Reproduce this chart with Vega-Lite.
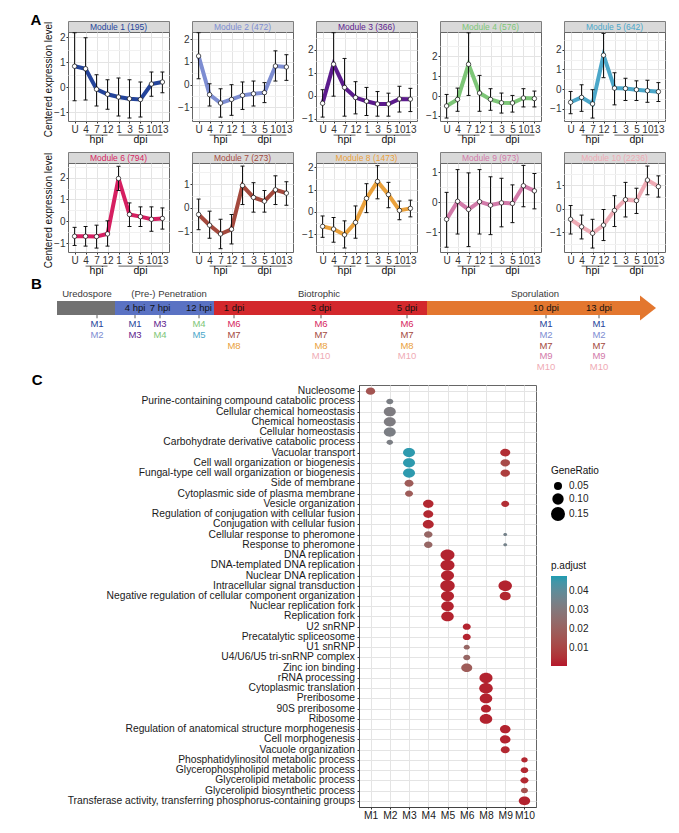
{
"$schema": "https://vega.github.io/schema/vega-lite/v6.json",
"padding": {"left": 30, "top": 12, "right": 5, "bottom": 5},
"background": "white",
"config": {
  "font": "Liberation Sans",
  "view": {"stroke": "#666", "strokeWidth": 1},
  "axis": {"labelFontSize": 10, "labelColor": "#333", "tickColor": "#333", "tickSize": 2, "labelPadding": 1, "gridColor": "#e4e4e4", "domain": false, "titleFontWeight": "normal", "titleFontSize": 10, "titleColor": "#111", "labelOverlap": false},
  "legend": {"titleFontWeight": "normal", "titleFontSize": 10, "labelFontSize": 10, "titleColor": "#111", "labelColor": "#222"},
  "title": {"fontSize": 15, "fontWeight": "bold", "anchor": "start", "offset": 0, "color": "#000"},
  "range": {"category": ["#24449b", "#7d8dd2", "#5c1b8d", "#7dc677", "#4ba7c9", "#d61f61", "#a4493d", "#eaa13b", "#d27aa9", "#efabb5"]}
},
"datasets": {
  "mods": [
    {"module": "M1", "label": "Module 1 (195)"}, {"module": "M2", "label": "Module 2 (472)"}, {"module": "M3", "label": "Module 3 (366)"}, {"module": "M4", "label": "Module 4 (576)"}, {"module": "M5", "label": "Module 5 (642)"},
    {"module": "M6", "label": "Module 6 (794)"}, {"module": "M7", "label": "Module 7 (273)"}, {"module": "M8", "label": "Module 8 (1473)"}, {"module": "M9", "label": "Module 9 (973)"}, {"module": "M10", "label": "Module 10 (2236)"}
  ],
  "tgroups": [{"group": "hpi", "from": "4", "to": "12", "mid": "7"}, {"group": "dpi", "from": "1", "to": "13", "mid": "5"}],
  "expr": [
    {"module":"M1","time":"U","mean":0.83,"lo":-0.55,"hi":2.17},{"module":"M1","time":"4","mean":0.73,"lo":-0.52,"hi":1.97},{"module":"M1","time":"7","mean":-0.09,"lo":-0.76,"hi":0.49},{"module":"M1","time":"12","mean":-0.29,"lo":-0.89,"hi":0.29},{"module":"M1","time":"1","mean":-0.40,"lo":-1.16,"hi":0.36},{"module":"M1","time":"3","mean":-0.47,"lo":-1.24,"hi":0.29},{"module":"M1","time":"5","mean":-0.50,"lo":-1.20,"hi":0.20},{"module":"M1","time":"10","mean":0.12,"lo":-0.37,"hi":0.60},{"module":"M1","time":"13","mean":0.20,"lo":-0.23,"hi":0.60},
    {"module":"M2","time":"U","mean":1.26,"lo":0.26,"hi":2.29},{"module":"M2","time":"4","mean":-0.44,"lo":-0.94,"hi":0.04},{"module":"M2","time":"7","mean":-0.81,"lo":-1.43,"hi":-0.18},{"module":"M2","time":"12","mean":-0.65,"lo":-1.35,"hi":0.00},{"module":"M2","time":"1","mean":-0.47,"lo":-1.09,"hi":0.12},{"module":"M2","time":"3","mean":-0.40,"lo":-0.94,"hi":0.16},{"module":"M2","time":"5","mean":-0.35,"lo":-0.79,"hi":0.09},{"module":"M2","time":"10","mean":0.82,"lo":0.16,"hi":1.49},{"module":"M2","time":"13","mean":0.78,"lo":0.19,"hi":1.32},
    {"module":"M3","time":"U","mean":-0.32,"lo":-0.92,"hi":0.27},{"module":"M3","time":"4","mean":1.38,"lo":-0.01,"hi":2.75},{"module":"M3","time":"7","mean":0.37,"lo":-0.88,"hi":1.63},{"module":"M3","time":"12","mean":-0.07,"lo":-0.78,"hi":0.62},{"module":"M3","time":"1","mean":-0.23,"lo":-0.85,"hi":0.37},{"module":"M3","time":"3","mean":-0.35,"lo":-0.88,"hi":0.19},{"module":"M3","time":"5","mean":-0.35,"lo":-0.88,"hi":0.12},{"module":"M3","time":"10","mean":-0.13,"lo":-0.70,"hi":0.42},{"module":"M3","time":"13","mean":-0.14,"lo":-0.68,"hi":0.33},
    {"module":"M4","time":"U","mean":-0.50,"lo":-1.11,"hi":0.08},{"module":"M4","time":"4","mean":-0.17,"lo":-0.77,"hi":0.40},{"module":"M4","time":"7","mean":1.60,"lo":0.03,"hi":3.19},{"module":"M4","time":"12","mean":0.15,"lo":-0.77,"hi":1.04},{"module":"M4","time":"1","mean":-0.17,"lo":-0.72,"hi":0.37},{"module":"M4","time":"3","mean":-0.34,"lo":-0.86,"hi":0.15},{"module":"M4","time":"5","mean":-0.35,"lo":-0.81,"hi":0.03},{"module":"M4","time":"10","mean":-0.10,"lo":-0.55,"hi":0.37},{"module":"M4","time":"13","mean":-0.13,"lo":-0.55,"hi":0.25},
    {"module":"M5","time":"U","mean":-0.67,"lo":-1.25,"hi":-0.12},{"module":"M5","time":"4","mean":-0.42,"lo":-1.13,"hi":0.22},{"module":"M5","time":"7","mean":-0.75,"lo":-1.47,"hi":-0.03},{"module":"M5","time":"12","mean":1.72,"lo":0.58,"hi":2.83},{"module":"M5","time":"1","mean":0.05,"lo":-0.80,"hi":0.83},{"module":"M5","time":"3","mean":0.03,"lo":-0.58,"hi":0.55},{"module":"M5","time":"5","mean":-0.03,"lo":-0.58,"hi":0.42},{"module":"M5","time":"10","mean":-0.08,"lo":-0.67,"hi":0.45},{"module":"M5","time":"13","mean":-0.13,"lo":-0.63,"hi":0.33},
    {"module":"M6","time":"U","mean":-0.69,"lo":-1.11,"hi":-0.28},{"module":"M6","time":"4","mean":-0.69,"lo":-1.14,"hi":-0.24},{"module":"M6","time":"7","mean":-0.70,"lo":-1.23,"hi":-0.18},{"module":"M6","time":"12","mean":-0.58,"lo":-1.14,"hi":0.02},{"module":"M6","time":"1","mean":1.96,"lo":1.41,"hi":2.52},{"module":"M6","time":"3","mean":0.31,"lo":-0.24,"hi":0.84},{"module":"M6","time":"5","mean":0.21,"lo":-0.24,"hi":0.66},{"module":"M6","time":"10","mean":0.09,"lo":-0.46,"hi":0.66},{"module":"M6","time":"13","mean":0.13,"lo":-0.36,"hi":0.61},
    {"module":"M7","time":"U","mean":-0.28,"lo":-0.92,"hi":0.37},{"module":"M7","time":"4","mean":-0.73,"lo":-1.28,"hi":-0.14},{"module":"M7","time":"7","mean":-1.10,"lo":-1.72,"hi":-0.48},{"module":"M7","time":"12","mean":-0.90,"lo":-1.52,"hi":-0.28},{"module":"M7","time":"1","mean":0.94,"lo":0.14,"hi":1.76},{"module":"M7","time":"3","mean":0.44,"lo":-0.18,"hi":1.06},{"module":"M7","time":"5","mean":0.28,"lo":-0.18,"hi":0.73},{"module":"M7","time":"10","mean":0.76,"lo":0.14,"hi":1.35},{"module":"M7","time":"13","mean":0.62,"lo":0.11,"hi":1.10},
    {"module":"M8","time":"U","mean":-0.65,"lo":-1.14,"hi":-0.18},{"module":"M8","time":"4","mean":-0.77,"lo":-1.36,"hi":-0.25},{"module":"M8","time":"7","mean":-1.03,"lo":-1.62,"hi":-0.40},{"module":"M8","time":"12","mean":-0.47,"lo":-1.18,"hi":0.27},{"module":"M8","time":"1","mean":0.61,"lo":-0.03,"hi":1.27},{"module":"M8","time":"3","mean":1.37,"lo":0.59,"hi":2.08},{"module":"M8","time":"5","mean":0.78,"lo":0.19,"hi":1.33},{"module":"M8","time":"10","mean":0.07,"lo":-0.35,"hi":0.49},{"module":"M8","time":"13","mean":0.16,"lo":-0.22,"hi":0.53},
    {"module":"M9","time":"U","mean":-0.57,"lo":-1.50,"hi":0.33},{"module":"M9","time":"4","mean":0.03,"lo":-1.06,"hi":1.09},{"module":"M9","time":"7","mean":-0.24,"lo":-1.48,"hi":0.98},{"module":"M9","time":"12","mean":0.02,"lo":-1.06,"hi":1.09},{"module":"M9","time":"1","mean":-0.10,"lo":-1.08,"hi":0.85},{"module":"M9","time":"3","mean":-0.02,"lo":-0.82,"hi":0.80},{"module":"M9","time":"5","mean":-0.04,"lo":-0.68,"hi":0.58},{"module":"M9","time":"10","mean":0.55,"lo":-0.15,"hi":1.23},{"module":"M9","time":"13","mean":0.38,"lo":-0.22,"hi":0.96},
    {"module":"M10","time":"U","mean":-0.45,"lo":-1.08,"hi":0.14},{"module":"M10","time":"4","mean":-0.77,"lo":-1.29,"hi":-0.27},{"module":"M10","time":"7","mean":-1.05,"lo":-1.68,"hi":-0.45},{"module":"M10","time":"12","mean":-0.70,"lo":-1.36,"hi":-0.03},{"module":"M10","time":"1","mean":-0.07,"lo":-0.76,"hi":0.56},{"module":"M10","time":"3","mean":0.39,"lo":-0.35,"hi":1.13},{"module":"M10","time":"5","mean":0.35,"lo":-0.20,"hi":0.88},{"module":"M10","time":"10","mean":1.23,"lo":0.60,"hi":1.83},{"module":"M10","time":"13","mean":0.95,"lo":0.50,"hi":1.41}
  ],
  "stages": [
    {"stage": "Uredospore", "start": 0, "end": 58, "mid": 30},
    {"stage": "(Pre-) Penetration", "start": 58, "end": 157, "mid": 112},
    {"stage": "Biotrophic", "start": 157, "end": 370, "mid": 262},
    {"stage": "Sporulation", "start": 370, "end": 583, "mid": 478}
  ],
  "cols": [
    {"pos": 40, "time": null}, {"pos": 78, "time": "4 hpi"}, {"pos": 103, "time": "7 hpi"}, {"pos": 142, "time": "12 hpi"}, {"pos": 177, "time": "1 dpi"},
    {"pos": 264, "time": "3 dpi"}, {"pos": 350, "time": "5 dpi"}, {"pos": 489, "time": "10 dpi"}, {"pos": 542, "time": "13 dpi"}
  ],
  "bmods": [
    {"pos": 40, "rank": 1, "module": "M1"}, {"pos": 40, "rank": 2, "module": "M2"},
    {"pos": 78, "rank": 1, "module": "M1"}, {"pos": 78, "rank": 2, "module": "M3"},
    {"pos": 103, "rank": 1, "module": "M3"}, {"pos": 103, "rank": 2, "module": "M4"},
    {"pos": 142, "rank": 1, "module": "M4"}, {"pos": 142, "rank": 2, "module": "M5"},
    {"pos": 177, "rank": 1, "module": "M6"}, {"pos": 177, "rank": 2, "module": "M7"}, {"pos": 177, "rank": 3, "module": "M8"},
    {"pos": 264, "rank": 1, "module": "M6"}, {"pos": 264, "rank": 2, "module": "M7"}, {"pos": 264, "rank": 3, "module": "M8"}, {"pos": 264, "rank": 4, "module": "M10"},
    {"pos": 350, "rank": 1, "module": "M6"}, {"pos": 350, "rank": 2, "module": "M7"}, {"pos": 350, "rank": 3, "module": "M8"}, {"pos": 350, "rank": 4, "module": "M10"},
    {"pos": 489, "rank": 1, "module": "M1"}, {"pos": 489, "rank": 2, "module": "M2"}, {"pos": 489, "rank": 3, "module": "M7"}, {"pos": 489, "rank": 4, "module": "M9"}, {"pos": 489, "rank": 5, "module": "M10"},
    {"pos": 542, "rank": 1, "module": "M1"}, {"pos": 542, "rank": 2, "module": "M2"}, {"pos": 542, "rank": 3, "module": "M7"}, {"pos": 542, "rank": 4, "module": "M9"}, {"pos": 542, "rank": 5, "module": "M10"}
  ],
  "go": [
    {"term": "Nucleosome", "module": "M1", "GeneRatio": 0.066, "padj": 0.015},
    {"term": "Purine-containing compound catabolic process", "module": "M2", "GeneRatio": 0.038, "padj": 0.033},
    {"term": "Cellular chemical homeostasis", "module": "M2", "GeneRatio": 0.11, "padj": 0.032},
    {"term": "Chemical homeostasis", "module": "M2", "GeneRatio": 0.11, "padj": 0.032},
    {"term": "Cellular homeostasis", "module": "M2", "GeneRatio": 0.11, "padj": 0.033},
    {"term": "Carbohydrate derivative catabolic process", "module": "M2", "GeneRatio": 0.032, "padj": 0.033},
    {"term": "Vacuolar transport", "module": "M3", "GeneRatio": 0.11, "padj": 0.047},
    {"term": "Vacuolar transport", "module": "M9", "GeneRatio": 0.077, "padj": 0.004},
    {"term": "Cell wall organization or biogenesis", "module": "M3", "GeneRatio": 0.11, "padj": 0.047},
    {"term": "Cell wall organization or biogenesis", "module": "M9", "GeneRatio": 0.069, "padj": 0.012},
    {"term": "Fungal-type cell wall organization or biogenesis", "module": "M3", "GeneRatio": 0.11, "padj": 0.047},
    {"term": "Fungal-type cell wall organization or biogenesis", "module": "M9", "GeneRatio": 0.069, "padj": 0.008},
    {"term": "Side of membrane", "module": "M3", "GeneRatio": 0.062, "padj": 0.018},
    {"term": "Cytoplasmic side of plasma membrane", "module": "M3", "GeneRatio": 0.049, "padj": 0.018},
    {"term": "Vesicle organization", "module": "M4", "GeneRatio": 0.085, "padj": 0.003},
    {"term": "Vesicle organization", "module": "M9", "GeneRatio": 0.049, "padj": 0.004},
    {"term": "Regulation of conjugation with cellular fusion", "module": "M4", "GeneRatio": 0.077, "padj": 0.003},
    {"term": "Conjugation with cellular fusion", "module": "M4", "GeneRatio": 0.093, "padj": 0.003},
    {"term": "Cellular response to pheromone", "module": "M4", "GeneRatio": 0.055, "padj": 0.022},
    {"term": "Cellular response to pheromone", "module": "M9", "GeneRatio": 0.012, "padj": 0.035},
    {"term": "Response to pheromone", "module": "M4", "GeneRatio": 0.055, "padj": 0.022},
    {"term": "Response to pheromone", "module": "M9", "GeneRatio": 0.012, "padj": 0.035},
    {"term": "DNA replication", "module": "M5", "GeneRatio": 0.15, "padj": 0.002},
    {"term": "DNA-templated DNA replication", "module": "M5", "GeneRatio": 0.15, "padj": 0.002},
    {"term": "Nuclear DNA replication", "module": "M5", "GeneRatio": 0.13, "padj": 0.002},
    {"term": "Intracellular signal transduction", "module": "M5", "GeneRatio": 0.16, "padj": 0.002},
    {"term": "Intracellular signal transduction", "module": "M9", "GeneRatio": 0.14, "padj": 0.002},
    {"term": "Negative regulation of cellular component organization", "module": "M5", "GeneRatio": 0.13, "padj": 0.002},
    {"term": "Negative regulation of cellular component organization", "module": "M9", "GeneRatio": 0.093, "padj": 0.003},
    {"term": "Nuclear replication fork", "module": "M5", "GeneRatio": 0.12, "padj": 0.002},
    {"term": "Replication fork", "module": "M5", "GeneRatio": 0.12, "padj": 0.002},
    {"term": "U2 snRNP", "module": "M6", "GeneRatio": 0.049, "padj": 0.002},
    {"term": "Precatalytic spliceosome", "module": "M6", "GeneRatio": 0.049, "padj": 0.002},
    {"term": "U1 snRNP", "module": "M6", "GeneRatio": 0.028, "padj": 0.022},
    {"term": "U4/U6/U5 tri-snRNP complex", "module": "M6", "GeneRatio": 0.038, "padj": 0.022},
    {"term": "Zinc ion binding", "module": "M6", "GeneRatio": 0.093, "padj": 0.018},
    {"term": "rRNA processing", "module": "M8", "GeneRatio": 0.13, "padj": 0.002},
    {"term": "Cytoplasmic translation", "module": "M8", "GeneRatio": 0.14, "padj": 0.002},
    {"term": "Preribosome", "module": "M8", "GeneRatio": 0.12, "padj": 0.002},
    {"term": "90S preribosome", "module": "M8", "GeneRatio": 0.077, "padj": 0.002},
    {"term": "Ribosome", "module": "M8", "GeneRatio": 0.12, "padj": 0.002},
    {"term": "Regulation of anatomical structure morphogenesis", "module": "M9", "GeneRatio": 0.085, "padj": 0.002},
    {"term": "Cell morphogenesis", "module": "M9", "GeneRatio": 0.085, "padj": 0.002},
    {"term": "Vacuole organization", "module": "M9", "GeneRatio": 0.062, "padj": 0.003},
    {"term": "Phosphatidylinositol metabolic process", "module": "M10", "GeneRatio": 0.032, "padj": 0.003},
    {"term": "Glycerophospholipid metabolic process", "module": "M10", "GeneRatio": 0.043, "padj": 0.003},
    {"term": "Glycerolipid metabolic process", "module": "M10", "GeneRatio": 0.049, "padj": 0.003},
    {"term": "Glycerolipid biosynthetic process", "module": "M10", "GeneRatio": 0.038, "padj": 0.014},
    {"term": "Transferase activity, transferring phosphorus-containing groups", "module": "M10", "GeneRatio": 0.10, "padj": 0.002}
  ]
},
"resolve": {"scale": {"color": "independent", "size": "independent", "fill": "independent"}, "legend": {"color": "independent", "size": "independent"}},
"spacing": 0,
"vconcat": [
{
  "title": {"text": "A", "dx": -12, "dy": 11},
  "spacing": 5,
  "vconcat": [
  {"spacing": 6, "hconcat": [
   {"bounds": "flush", "spacing": 0, "vconcat": [
    {"width": 101, "height": 11, "view": {"fill": "#d9d9d9", "stroke": "#7f7f7f"}, "data": {"name": "mods"}, "transform": [{"filter": "datum.module == 'M1'"}], "mark": {"type": "text", "fontSize": 8.5, "baseline": "middle"}, "encoding": {"text": {"field": "label"}, "color": {"field": "module", "type": "nominal", "scale": {"domain": ["M1","M2","M3","M4","M5","M6","M7","M8","M9","M10"]}, "legend": null}}},
    {"width": 101, "height": 89, "data": {"name": "expr"}, "transform": [{"filter": "datum.module == 'M1'"}], "resolve": {"axis": {"y": "independent"}},
     "encoding": {"x": {"field": "time", "type": "ordinal", "scale": {"type": "point", "domain": ["U","4","7","12","1","3","5","10","13"], "padding": 0.6}, "axis": {"title": null, "labelAngle": 0, "grid": true}}},
     "layer": [
      {"mark": {"type": "line", "strokeWidth": 4}, "encoding": {"y": {"field": "mean", "type": "quantitative", "scale": {"domain": [-1.36, 2.2], "nice": false, "zero": false}, "axis": {"title": "Centered expression level", "titleX": -15, "titleY": 47, "titleBaseline": "bottom", "titleAngle": 270, "titleAlign": "center", "grid": true, "values": [-1,0,1,2]}}, "color": {"field": "module", "type": "nominal", "scale": {"domain": ["M1","M2","M3","M4","M5","M6","M7","M8","M9","M10"]}, "legend": null}, "order": {"value": null}}},
      {"mark": {"type": "rule", "color": "#111", "strokeWidth": 1}, "encoding": {"y": {"field": "lo", "type": "quantitative", "axis": {"orient": "right", "values": [-0.5,0.5,1.5], "grid": true, "gridColor": "#f1f1f1", "labels": false, "ticks": false, "domain": false, "title": null}}, "y2": {"field": "hi"}}},
      {"mark": {"type": "tick", "color": "#111", "thickness": 1, "size": 4, "opacity": 1}, "encoding": {"y": {"field": "lo", "type": "quantitative", "axis": null}}},
      {"mark": {"type": "tick", "color": "#111", "thickness": 1, "size": 4, "opacity": 1}, "encoding": {"y": {"field": "hi", "type": "quantitative", "axis": null}}},
      {"mark": {"type": "point", "filled": true, "fill": "white", "stroke": "#111", "strokeWidth": 0.7, "size": 20, "opacity": 1}, "encoding": {"y": {"field": "mean", "type": "quantitative", "axis": null}}}
     ]},
    {"width": 101, "height": 24, "view": {"stroke": null}, "data": {"name": "tgroups"}, "layer": [
      {"mark": {"type": "rule", "color": "#333", "strokeWidth": 0.8}, "encoding": {"x": {"field": "from", "type": "ordinal", "scale": {"type": "point", "domain": ["U","4","7","12","1","3","5","10","13"], "padding": 0.6}, "axis": null}, "x2": {"field": "to"}, "y": {"datum": 2.35, "type": "quantitative", "scale": {"domain": [0, 4], "reverse": true}, "axis": null}}},
      {"mark": {"type": "text", "fontSize": 10.5, "color": "#111", "baseline": "middle"}, "encoding": {"x": {"field": "mid", "type": "ordinal"}, "y": {"datum": 3.2, "type": "quantitative"}, "text": {"field": "group"}}}
    ]}
   ]},
   {"bounds": "flush", "spacing": 0, "vconcat": [
    {"width": 101, "height": 11, "view": {"fill": "#d9d9d9", "stroke": "#7f7f7f"}, "data": {"name": "mods"}, "transform": [{"filter": "datum.module == 'M2'"}], "mark": {"type": "text", "fontSize": 8.5, "baseline": "middle"}, "encoding": {"text": {"field": "label"}, "color": {"field": "module", "type": "nominal", "scale": {"domain": ["M1","M2","M3","M4","M5","M6","M7","M8","M9","M10"]}, "legend": null}}},
    {"width": 101, "height": 89, "data": {"name": "expr"}, "transform": [{"filter": "datum.module == 'M2'"}], "resolve": {"axis": {"y": "independent"}},
     "encoding": {"x": {"field": "time", "type": "ordinal", "scale": {"type": "point", "domain": ["U","4","7","12","1","3","5","10","13"], "padding": 0.6}, "axis": {"title": null, "labelAngle": 0, "grid": true}}},
     "layer": [
      {"mark": {"type": "line", "strokeWidth": 4}, "encoding": {"y": {"field": "mean", "type": "quantitative", "scale": {"domain": [-1.6, 2.32], "nice": false, "zero": false}, "axis": {"title": null, "grid": true, "values": [-1,0,1,2]}}, "color": {"field": "module", "type": "nominal", "scale": {"domain": ["M1","M2","M3","M4","M5","M6","M7","M8","M9","M10"]}, "legend": null}, "order": {"value": null}}},
      {"mark": {"type": "rule", "color": "#111", "strokeWidth": 1}, "encoding": {"y": {"field": "lo", "type": "quantitative", "axis": {"orient": "right", "values": [-1.5,-0.5,0.5,1.5], "grid": true, "gridColor": "#f1f1f1", "labels": false, "ticks": false, "domain": false, "title": null}}, "y2": {"field": "hi"}}},
      {"mark": {"type": "tick", "color": "#111", "thickness": 1, "size": 4, "opacity": 1}, "encoding": {"y": {"field": "lo", "type": "quantitative", "axis": null}}},
      {"mark": {"type": "tick", "color": "#111", "thickness": 1, "size": 4, "opacity": 1}, "encoding": {"y": {"field": "hi", "type": "quantitative", "axis": null}}},
      {"mark": {"type": "point", "filled": true, "fill": "white", "stroke": "#111", "strokeWidth": 0.7, "size": 20, "opacity": 1}, "encoding": {"y": {"field": "mean", "type": "quantitative", "axis": null}}}
     ]},
    {"width": 101, "height": 24, "view": {"stroke": null}, "data": {"name": "tgroups"}, "layer": [
      {"mark": {"type": "rule", "color": "#333", "strokeWidth": 0.8}, "encoding": {"x": {"field": "from", "type": "ordinal", "scale": {"type": "point", "domain": ["U","4","7","12","1","3","5","10","13"], "padding": 0.6}, "axis": null}, "x2": {"field": "to"}, "y": {"datum": 2.35, "type": "quantitative", "scale": {"domain": [0, 4], "reverse": true}, "axis": null}}},
      {"mark": {"type": "text", "fontSize": 10.5, "color": "#111", "baseline": "middle"}, "encoding": {"x": {"field": "mid", "type": "ordinal"}, "y": {"datum": 3.2, "type": "quantitative"}, "text": {"field": "group"}}}
    ]}
   ]},
   {"bounds": "flush", "spacing": 0, "vconcat": [
    {"width": 101, "height": 11, "view": {"fill": "#d9d9d9", "stroke": "#7f7f7f"}, "data": {"name": "mods"}, "transform": [{"filter": "datum.module == 'M3'"}], "mark": {"type": "text", "fontSize": 8.5, "baseline": "middle"}, "encoding": {"text": {"field": "label"}, "color": {"field": "module", "type": "nominal", "scale": {"domain": ["M1","M2","M3","M4","M5","M6","M7","M8","M9","M10"]}, "legend": null}}},
    {"width": 101, "height": 89, "data": {"name": "expr"}, "transform": [{"filter": "datum.module == 'M3'"}], "resolve": {"axis": {"y": "independent"}},
     "encoding": {"x": {"field": "time", "type": "ordinal", "scale": {"type": "point", "domain": ["U","4","7","12","1","3","5","10","13"], "padding": 0.6}, "axis": {"title": null, "labelAngle": 0, "grid": true}}},
     "layer": [
      {"mark": {"type": "line", "strokeWidth": 4}, "encoding": {"y": {"field": "mean", "type": "quantitative", "scale": {"domain": [-1.09, 2.78], "nice": false, "zero": false}, "axis": {"title": null, "grid": true, "values": [-1,0,1,2]}}, "color": {"field": "module", "type": "nominal", "scale": {"domain": ["M1","M2","M3","M4","M5","M6","M7","M8","M9","M10"]}, "legend": null}, "order": {"value": null}}},
      {"mark": {"type": "rule", "color": "#111", "strokeWidth": 1}, "encoding": {"y": {"field": "lo", "type": "quantitative", "axis": {"orient": "right", "values": [-0.5,0.5,1.5,2.5], "grid": true, "gridColor": "#f1f1f1", "labels": false, "ticks": false, "domain": false, "title": null}}, "y2": {"field": "hi"}}},
      {"mark": {"type": "tick", "color": "#111", "thickness": 1, "size": 4, "opacity": 1}, "encoding": {"y": {"field": "lo", "type": "quantitative", "axis": null}}},
      {"mark": {"type": "tick", "color": "#111", "thickness": 1, "size": 4, "opacity": 1}, "encoding": {"y": {"field": "hi", "type": "quantitative", "axis": null}}},
      {"mark": {"type": "point", "filled": true, "fill": "white", "stroke": "#111", "strokeWidth": 0.7, "size": 20, "opacity": 1}, "encoding": {"y": {"field": "mean", "type": "quantitative", "axis": null}}}
     ]},
    {"width": 101, "height": 24, "view": {"stroke": null}, "data": {"name": "tgroups"}, "layer": [
      {"mark": {"type": "rule", "color": "#333", "strokeWidth": 0.8}, "encoding": {"x": {"field": "from", "type": "ordinal", "scale": {"type": "point", "domain": ["U","4","7","12","1","3","5","10","13"], "padding": 0.6}, "axis": null}, "x2": {"field": "to"}, "y": {"datum": 2.35, "type": "quantitative", "scale": {"domain": [0, 4], "reverse": true}, "axis": null}}},
      {"mark": {"type": "text", "fontSize": 10.5, "color": "#111", "baseline": "middle"}, "encoding": {"x": {"field": "mid", "type": "ordinal"}, "y": {"datum": 3.2, "type": "quantitative"}, "text": {"field": "group"}}}
    ]}
   ]},
   {"bounds": "flush", "spacing": 0, "vconcat": [
    {"width": 101, "height": 11, "view": {"fill": "#d9d9d9", "stroke": "#7f7f7f"}, "data": {"name": "mods"}, "transform": [{"filter": "datum.module == 'M4'"}], "mark": {"type": "text", "fontSize": 8.5, "baseline": "middle"}, "encoding": {"text": {"field": "label"}, "color": {"field": "module", "type": "nominal", "scale": {"domain": ["M1","M2","M3","M4","M5","M6","M7","M8","M9","M10"]}, "legend": null}}},
    {"width": 101, "height": 89, "data": {"name": "expr"}, "transform": [{"filter": "datum.module == 'M4'"}], "resolve": {"axis": {"y": "independent"}},
     "encoding": {"x": {"field": "time", "type": "ordinal", "scale": {"type": "point", "domain": ["U","4","7","12","1","3","5","10","13"], "padding": 0.6}, "axis": {"title": null, "labelAngle": 0, "grid": true}}},
     "layer": [
      {"mark": {"type": "line", "strokeWidth": 4}, "encoding": {"y": {"field": "mean", "type": "quantitative", "scale": {"domain": [-1.26, 3.23], "nice": false, "zero": false}, "axis": {"title": null, "grid": true, "values": [-1,0,1,2]}}, "color": {"field": "module", "type": "nominal", "scale": {"domain": ["M1","M2","M3","M4","M5","M6","M7","M8","M9","M10"]}, "legend": null}, "order": {"value": null}}},
      {"mark": {"type": "rule", "color": "#111", "strokeWidth": 1}, "encoding": {"y": {"field": "lo", "type": "quantitative", "axis": {"orient": "right", "values": [-0.5,0.5,1.5,2.5], "grid": true, "gridColor": "#f1f1f1", "labels": false, "ticks": false, "domain": false, "title": null}}, "y2": {"field": "hi"}}},
      {"mark": {"type": "tick", "color": "#111", "thickness": 1, "size": 4, "opacity": 1}, "encoding": {"y": {"field": "lo", "type": "quantitative", "axis": null}}},
      {"mark": {"type": "tick", "color": "#111", "thickness": 1, "size": 4, "opacity": 1}, "encoding": {"y": {"field": "hi", "type": "quantitative", "axis": null}}},
      {"mark": {"type": "point", "filled": true, "fill": "white", "stroke": "#111", "strokeWidth": 0.7, "size": 20, "opacity": 1}, "encoding": {"y": {"field": "mean", "type": "quantitative", "axis": null}}}
     ]},
    {"width": 101, "height": 24, "view": {"stroke": null}, "data": {"name": "tgroups"}, "layer": [
      {"mark": {"type": "rule", "color": "#333", "strokeWidth": 0.8}, "encoding": {"x": {"field": "from", "type": "ordinal", "scale": {"type": "point", "domain": ["U","4","7","12","1","3","5","10","13"], "padding": 0.6}, "axis": null}, "x2": {"field": "to"}, "y": {"datum": 2.35, "type": "quantitative", "scale": {"domain": [0, 4], "reverse": true}, "axis": null}}},
      {"mark": {"type": "text", "fontSize": 10.5, "color": "#111", "baseline": "middle"}, "encoding": {"x": {"field": "mid", "type": "ordinal"}, "y": {"datum": 3.2, "type": "quantitative"}, "text": {"field": "group"}}}
    ]}
   ]},
   {"bounds": "flush", "spacing": 0, "vconcat": [
    {"width": 101, "height": 11, "view": {"fill": "#d9d9d9", "stroke": "#7f7f7f"}, "data": {"name": "mods"}, "transform": [{"filter": "datum.module == 'M5'"}], "mark": {"type": "text", "fontSize": 8.5, "baseline": "middle"}, "encoding": {"text": {"field": "label"}, "color": {"field": "module", "type": "nominal", "scale": {"domain": ["M1","M2","M3","M4","M5","M6","M7","M8","M9","M10"]}, "legend": null}}},
    {"width": 101, "height": 89, "data": {"name": "expr"}, "transform": [{"filter": "datum.module == 'M5'"}], "resolve": {"axis": {"y": "independent"}},
     "encoding": {"x": {"field": "time", "type": "ordinal", "scale": {"type": "point", "domain": ["U","4","7","12","1","3","5","10","13"], "padding": 0.6}, "axis": {"title": null, "labelAngle": 0, "grid": true}}},
     "layer": [
      {"mark": {"type": "line", "strokeWidth": 4}, "encoding": {"y": {"field": "mean", "type": "quantitative", "scale": {"domain": [-1.62, 2.9], "nice": false, "zero": false}, "axis": {"title": null, "grid": true, "values": [-1,0,1,2]}}, "color": {"field": "module", "type": "nominal", "scale": {"domain": ["M1","M2","M3","M4","M5","M6","M7","M8","M9","M10"]}, "legend": null}, "order": {"value": null}}},
      {"mark": {"type": "rule", "color": "#111", "strokeWidth": 1}, "encoding": {"y": {"field": "lo", "type": "quantitative", "axis": {"orient": "right", "values": [-1.5,-0.5,0.5,1.5,2.5], "grid": true, "gridColor": "#f1f1f1", "labels": false, "ticks": false, "domain": false, "title": null}}, "y2": {"field": "hi"}}},
      {"mark": {"type": "tick", "color": "#111", "thickness": 1, "size": 4, "opacity": 1}, "encoding": {"y": {"field": "lo", "type": "quantitative", "axis": null}}},
      {"mark": {"type": "tick", "color": "#111", "thickness": 1, "size": 4, "opacity": 1}, "encoding": {"y": {"field": "hi", "type": "quantitative", "axis": null}}},
      {"mark": {"type": "point", "filled": true, "fill": "white", "stroke": "#111", "strokeWidth": 0.7, "size": 20, "opacity": 1}, "encoding": {"y": {"field": "mean", "type": "quantitative", "axis": null}}}
     ]},
    {"width": 101, "height": 24, "view": {"stroke": null}, "data": {"name": "tgroups"}, "layer": [
      {"mark": {"type": "rule", "color": "#333", "strokeWidth": 0.8}, "encoding": {"x": {"field": "from", "type": "ordinal", "scale": {"type": "point", "domain": ["U","4","7","12","1","3","5","10","13"], "padding": 0.6}, "axis": null}, "x2": {"field": "to"}, "y": {"datum": 2.35, "type": "quantitative", "scale": {"domain": [0, 4], "reverse": true}, "axis": null}}},
      {"mark": {"type": "text", "fontSize": 10.5, "color": "#111", "baseline": "middle"}, "encoding": {"x": {"field": "mid", "type": "ordinal"}, "y": {"datum": 3.2, "type": "quantitative"}, "text": {"field": "group"}}}
    ]}
   ]}
  ]},
  {"spacing": 6, "hconcat": [
   {"bounds": "flush", "spacing": 0, "vconcat": [
    {"width": 101, "height": 11, "view": {"fill": "#d9d9d9", "stroke": "#7f7f7f"}, "data": {"name": "mods"}, "transform": [{"filter": "datum.module == 'M6'"}], "mark": {"type": "text", "fontSize": 8.5, "baseline": "middle"}, "encoding": {"text": {"field": "label"}, "color": {"field": "module", "type": "nominal", "scale": {"domain": ["M1","M2","M3","M4","M5","M6","M7","M8","M9","M10"]}, "legend": null}}},
    {"width": 101, "height": 89, "data": {"name": "expr"}, "transform": [{"filter": "datum.module == 'M6'"}], "resolve": {"axis": {"y": "independent"}},
     "encoding": {"x": {"field": "time", "type": "ordinal", "scale": {"type": "point", "domain": ["U","4","7","12","1","3","5","10","13"], "padding": 0.6}, "axis": {"title": null, "labelAngle": 0, "grid": true}}},
     "layer": [
      {"mark": {"type": "line", "strokeWidth": 4}, "encoding": {"y": {"field": "mean", "type": "quantitative", "scale": {"domain": [-1.41, 2.67], "nice": false, "zero": false}, "axis": {"title": "Centered expression level", "titleX": -15, "titleY": 47, "titleBaseline": "bottom", "titleAngle": 270, "titleAlign": "center", "grid": true, "values": [-1,0,1,2]}}, "color": {"field": "module", "type": "nominal", "scale": {"domain": ["M1","M2","M3","M4","M5","M6","M7","M8","M9","M10"]}, "legend": null}, "order": {"value": null}}},
      {"mark": {"type": "rule", "color": "#111", "strokeWidth": 1}, "encoding": {"y": {"field": "lo", "type": "quantitative", "axis": {"orient": "right", "values": [-0.5,0.5,1.5,2.5], "grid": true, "gridColor": "#f1f1f1", "labels": false, "ticks": false, "domain": false, "title": null}}, "y2": {"field": "hi"}}},
      {"mark": {"type": "tick", "color": "#111", "thickness": 1, "size": 4, "opacity": 1}, "encoding": {"y": {"field": "lo", "type": "quantitative", "axis": null}}},
      {"mark": {"type": "tick", "color": "#111", "thickness": 1, "size": 4, "opacity": 1}, "encoding": {"y": {"field": "hi", "type": "quantitative", "axis": null}}},
      {"mark": {"type": "point", "filled": true, "fill": "white", "stroke": "#111", "strokeWidth": 0.7, "size": 20, "opacity": 1}, "encoding": {"y": {"field": "mean", "type": "quantitative", "axis": null}}}
     ]},
    {"width": 101, "height": 24, "view": {"stroke": null}, "data": {"name": "tgroups"}, "layer": [
      {"mark": {"type": "rule", "color": "#333", "strokeWidth": 0.8}, "encoding": {"x": {"field": "from", "type": "ordinal", "scale": {"type": "point", "domain": ["U","4","7","12","1","3","5","10","13"], "padding": 0.6}, "axis": null}, "x2": {"field": "to"}, "y": {"datum": 2.35, "type": "quantitative", "scale": {"domain": [0, 4], "reverse": true}, "axis": null}}},
      {"mark": {"type": "text", "fontSize": 10.5, "color": "#111", "baseline": "middle"}, "encoding": {"x": {"field": "mid", "type": "ordinal"}, "y": {"datum": 3.2, "type": "quantitative"}, "text": {"field": "group"}}}
    ]}
   ]},
   {"bounds": "flush", "spacing": 0, "vconcat": [
    {"width": 101, "height": 11, "view": {"fill": "#d9d9d9", "stroke": "#7f7f7f"}, "data": {"name": "mods"}, "transform": [{"filter": "datum.module == 'M7'"}], "mark": {"type": "text", "fontSize": 8.5, "baseline": "middle"}, "encoding": {"text": {"field": "label"}, "color": {"field": "module", "type": "nominal", "scale": {"domain": ["M1","M2","M3","M4","M5","M6","M7","M8","M9","M10"]}, "legend": null}}},
    {"width": 101, "height": 89, "data": {"name": "expr"}, "transform": [{"filter": "datum.module == 'M7'"}], "resolve": {"axis": {"y": "independent"}},
     "encoding": {"x": {"field": "time", "type": "ordinal", "scale": {"type": "point", "domain": ["U","4","7","12","1","3","5","10","13"], "padding": 0.6}, "axis": {"title": null, "labelAngle": 0, "grid": true}}},
     "layer": [
      {"mark": {"type": "line", "strokeWidth": 4}, "encoding": {"y": {"field": "mean", "type": "quantitative", "scale": {"domain": [-1.86, 1.89], "nice": false, "zero": false}, "axis": {"title": null, "grid": true, "values": [-1,0,1]}}, "color": {"field": "module", "type": "nominal", "scale": {"domain": ["M1","M2","M3","M4","M5","M6","M7","M8","M9","M10"]}, "legend": null}, "order": {"value": null}}},
      {"mark": {"type": "rule", "color": "#111", "strokeWidth": 1}, "encoding": {"y": {"field": "lo", "type": "quantitative", "axis": {"orient": "right", "values": [-1.5,-0.5,0.5,1.5], "grid": true, "gridColor": "#f1f1f1", "labels": false, "ticks": false, "domain": false, "title": null}}, "y2": {"field": "hi"}}},
      {"mark": {"type": "tick", "color": "#111", "thickness": 1, "size": 4, "opacity": 1}, "encoding": {"y": {"field": "lo", "type": "quantitative", "axis": null}}},
      {"mark": {"type": "tick", "color": "#111", "thickness": 1, "size": 4, "opacity": 1}, "encoding": {"y": {"field": "hi", "type": "quantitative", "axis": null}}},
      {"mark": {"type": "point", "filled": true, "fill": "white", "stroke": "#111", "strokeWidth": 0.7, "size": 20, "opacity": 1}, "encoding": {"y": {"field": "mean", "type": "quantitative", "axis": null}}}
     ]},
    {"width": 101, "height": 24, "view": {"stroke": null}, "data": {"name": "tgroups"}, "layer": [
      {"mark": {"type": "rule", "color": "#333", "strokeWidth": 0.8}, "encoding": {"x": {"field": "from", "type": "ordinal", "scale": {"type": "point", "domain": ["U","4","7","12","1","3","5","10","13"], "padding": 0.6}, "axis": null}, "x2": {"field": "to"}, "y": {"datum": 2.35, "type": "quantitative", "scale": {"domain": [0, 4], "reverse": true}, "axis": null}}},
      {"mark": {"type": "text", "fontSize": 10.5, "color": "#111", "baseline": "middle"}, "encoding": {"x": {"field": "mid", "type": "ordinal"}, "y": {"datum": 3.2, "type": "quantitative"}, "text": {"field": "group"}}}
    ]}
   ]},
   {"bounds": "flush", "spacing": 0, "vconcat": [
    {"width": 101, "height": 11, "view": {"fill": "#d9d9d9", "stroke": "#7f7f7f"}, "data": {"name": "mods"}, "transform": [{"filter": "datum.module == 'M8'"}], "mark": {"type": "text", "fontSize": 8.5, "baseline": "middle"}, "encoding": {"text": {"field": "label"}, "color": {"field": "module", "type": "nominal", "scale": {"domain": ["M1","M2","M3","M4","M5","M6","M7","M8","M9","M10"]}, "legend": null}}},
    {"width": 101, "height": 89, "data": {"name": "expr"}, "transform": [{"filter": "datum.module == 'M8'"}], "resolve": {"axis": {"y": "independent"}},
     "encoding": {"x": {"field": "time", "type": "ordinal", "scale": {"type": "point", "domain": ["U","4","7","12","1","3","5","10","13"], "padding": 0.6}, "axis": {"title": null, "labelAngle": 0, "grid": true}}},
     "layer": [
      {"mark": {"type": "line", "strokeWidth": 4}, "encoding": {"y": {"field": "mean", "type": "quantitative", "scale": {"domain": [-1.8, 2.2], "nice": false, "zero": false}, "axis": {"title": null, "grid": true, "values": [-1,0,1,2]}}, "color": {"field": "module", "type": "nominal", "scale": {"domain": ["M1","M2","M3","M4","M5","M6","M7","M8","M9","M10"]}, "legend": null}, "order": {"value": null}}},
      {"mark": {"type": "rule", "color": "#111", "strokeWidth": 1}, "encoding": {"y": {"field": "lo", "type": "quantitative", "axis": {"orient": "right", "values": [-1.5,-0.5,0.5,1.5], "grid": true, "gridColor": "#f1f1f1", "labels": false, "ticks": false, "domain": false, "title": null}}, "y2": {"field": "hi"}}},
      {"mark": {"type": "tick", "color": "#111", "thickness": 1, "size": 4, "opacity": 1}, "encoding": {"y": {"field": "lo", "type": "quantitative", "axis": null}}},
      {"mark": {"type": "tick", "color": "#111", "thickness": 1, "size": 4, "opacity": 1}, "encoding": {"y": {"field": "hi", "type": "quantitative", "axis": null}}},
      {"mark": {"type": "point", "filled": true, "fill": "white", "stroke": "#111", "strokeWidth": 0.7, "size": 20, "opacity": 1}, "encoding": {"y": {"field": "mean", "type": "quantitative", "axis": null}}}
     ]},
    {"width": 101, "height": 24, "view": {"stroke": null}, "data": {"name": "tgroups"}, "layer": [
      {"mark": {"type": "rule", "color": "#333", "strokeWidth": 0.8}, "encoding": {"x": {"field": "from", "type": "ordinal", "scale": {"type": "point", "domain": ["U","4","7","12","1","3","5","10","13"], "padding": 0.6}, "axis": null}, "x2": {"field": "to"}, "y": {"datum": 2.35, "type": "quantitative", "scale": {"domain": [0, 4], "reverse": true}, "axis": null}}},
      {"mark": {"type": "text", "fontSize": 10.5, "color": "#111", "baseline": "middle"}, "encoding": {"x": {"field": "mid", "type": "ordinal"}, "y": {"datum": 3.2, "type": "quantitative"}, "text": {"field": "group"}}}
    ]}
   ]},
   {"bounds": "flush", "spacing": 0, "vconcat": [
    {"width": 101, "height": 11, "view": {"fill": "#d9d9d9", "stroke": "#7f7f7f"}, "data": {"name": "mods"}, "transform": [{"filter": "datum.module == 'M9'"}], "mark": {"type": "text", "fontSize": 8.5, "baseline": "middle"}, "encoding": {"text": {"field": "label"}, "color": {"field": "module", "type": "nominal", "scale": {"domain": ["M1","M2","M3","M4","M5","M6","M7","M8","M9","M10"]}, "legend": null}}},
    {"width": 101, "height": 89, "data": {"name": "expr"}, "transform": [{"filter": "datum.module == 'M9'"}], "resolve": {"axis": {"y": "independent"}},
     "encoding": {"x": {"field": "time", "type": "ordinal", "scale": {"type": "point", "domain": ["U","4","7","12","1","3","5","10","13"], "padding": 0.6}, "axis": {"title": null, "labelAngle": 0, "grid": true}}},
     "layer": [
      {"mark": {"type": "line", "strokeWidth": 4}, "encoding": {"y": {"field": "mean", "type": "quantitative", "scale": {"domain": [-1.66, 1.31], "nice": false, "zero": false}, "axis": {"title": null, "grid": true, "values": [-1,0,1]}}, "color": {"field": "module", "type": "nominal", "scale": {"domain": ["M1","M2","M3","M4","M5","M6","M7","M8","M9","M10"]}, "legend": null}, "order": {"value": null}}},
      {"mark": {"type": "rule", "color": "#111", "strokeWidth": 1}, "encoding": {"y": {"field": "lo", "type": "quantitative", "axis": {"orient": "right", "values": [-1.5,-0.5,0.5], "grid": true, "gridColor": "#f1f1f1", "labels": false, "ticks": false, "domain": false, "title": null}}, "y2": {"field": "hi"}}},
      {"mark": {"type": "tick", "color": "#111", "thickness": 1, "size": 4, "opacity": 1}, "encoding": {"y": {"field": "lo", "type": "quantitative", "axis": null}}},
      {"mark": {"type": "tick", "color": "#111", "thickness": 1, "size": 4, "opacity": 1}, "encoding": {"y": {"field": "hi", "type": "quantitative", "axis": null}}},
      {"mark": {"type": "point", "filled": true, "fill": "white", "stroke": "#111", "strokeWidth": 0.7, "size": 20, "opacity": 1}, "encoding": {"y": {"field": "mean", "type": "quantitative", "axis": null}}}
     ]},
    {"width": 101, "height": 24, "view": {"stroke": null}, "data": {"name": "tgroups"}, "layer": [
      {"mark": {"type": "rule", "color": "#333", "strokeWidth": 0.8}, "encoding": {"x": {"field": "from", "type": "ordinal", "scale": {"type": "point", "domain": ["U","4","7","12","1","3","5","10","13"], "padding": 0.6}, "axis": null}, "x2": {"field": "to"}, "y": {"datum": 2.35, "type": "quantitative", "scale": {"domain": [0, 4], "reverse": true}, "axis": null}}},
      {"mark": {"type": "text", "fontSize": 10.5, "color": "#111", "baseline": "middle"}, "encoding": {"x": {"field": "mid", "type": "ordinal"}, "y": {"datum": 3.2, "type": "quantitative"}, "text": {"field": "group"}}}
    ]}
   ]},
   {"bounds": "flush", "spacing": 0, "vconcat": [
    {"width": 101, "height": 11, "view": {"fill": "#d9d9d9", "stroke": "#7f7f7f"}, "data": {"name": "mods"}, "transform": [{"filter": "datum.module == 'M10'"}], "mark": {"type": "text", "fontSize": 8.5, "baseline": "middle"}, "encoding": {"text": {"field": "label"}, "color": {"field": "module", "type": "nominal", "scale": {"domain": ["M1","M2","M3","M4","M5","M6","M7","M8","M9","M10"]}, "legend": null}}},
    {"width": 101, "height": 89, "data": {"name": "expr"}, "transform": [{"filter": "datum.module == 'M10'"}], "resolve": {"axis": {"y": "independent"}},
     "encoding": {"x": {"field": "time", "type": "ordinal", "scale": {"type": "point", "domain": ["U","4","7","12","1","3","5","10","13"], "padding": 0.6}, "axis": {"title": null, "labelAngle": 0, "grid": true}}},
     "layer": [
      {"mark": {"type": "line", "strokeWidth": 4}, "encoding": {"y": {"field": "mean", "type": "quantitative", "scale": {"domain": [-1.85, 1.96], "nice": false, "zero": false}, "axis": {"title": null, "grid": true, "values": [-1,0,1]}}, "color": {"field": "module", "type": "nominal", "scale": {"domain": ["M1","M2","M3","M4","M5","M6","M7","M8","M9","M10"]}, "legend": null}, "order": {"value": null}}},
      {"mark": {"type": "rule", "color": "#111", "strokeWidth": 1}, "encoding": {"y": {"field": "lo", "type": "quantitative", "axis": {"orient": "right", "values": [-1.5,-0.5,0.5,1.5], "grid": true, "gridColor": "#f1f1f1", "labels": false, "ticks": false, "domain": false, "title": null}}, "y2": {"field": "hi"}}},
      {"mark": {"type": "tick", "color": "#111", "thickness": 1, "size": 4, "opacity": 1}, "encoding": {"y": {"field": "lo", "type": "quantitative", "axis": null}}},
      {"mark": {"type": "tick", "color": "#111", "thickness": 1, "size": 4, "opacity": 1}, "encoding": {"y": {"field": "hi", "type": "quantitative", "axis": null}}},
      {"mark": {"type": "point", "filled": true, "fill": "white", "stroke": "#111", "strokeWidth": 0.7, "size": 20, "opacity": 1}, "encoding": {"y": {"field": "mean", "type": "quantitative", "axis": null}}}
     ]},
    {"width": 101, "height": 24, "view": {"stroke": null}, "data": {"name": "tgroups"}, "layer": [
      {"mark": {"type": "rule", "color": "#333", "strokeWidth": 0.8}, "encoding": {"x": {"field": "from", "type": "ordinal", "scale": {"type": "point", "domain": ["U","4","7","12","1","3","5","10","13"], "padding": 0.6}, "axis": null}, "x2": {"field": "to"}, "y": {"datum": 2.35, "type": "quantitative", "scale": {"domain": [0, 4], "reverse": true}, "axis": null}}},
      {"mark": {"type": "text", "fontSize": 10.5, "color": "#111", "baseline": "middle"}, "encoding": {"x": {"field": "mid", "type": "ordinal"}, "y": {"datum": 3.2, "type": "quantitative"}, "text": {"field": "group"}}}
    ]}
   ]}
  ]}
  ]
},
{
  "title": {"text": "B", "dx": -26, "dy": 8},
  "width": 600, "height": 84, "view": {"stroke": null},
  "layer": [
    {"data": {"name": "stages"}, "mark": {"type": "text", "fontSize": 9.5, "color": "#3a3a3a", "baseline": "middle"},
     "encoding": {"x": {"field": "mid", "type": "quantitative", "scale": {"domain": [11, 611], "nice": false, "zero": false}, "axis": null}, "y": {"datum": -1.72, "type": "quantitative", "scale": {"domain": [-2.28, 5.43], "reverse": true, "nice": false, "zero": false}, "axis": null}, "text": {"field": "stage"}}},
    {"data": {"name": "stages"}, "mark": {"type": "rect"},
     "encoding": {"x": {"field": "start", "type": "quantitative"}, "x2": {"field": "end"}, "y": {"datum": -1.08, "type": "quantitative"}, "y2": {"datum": 0.2}, "fill": {"field": "stage", "type": "nominal", "scale": {"domain": ["Uredospore", "(Pre-) Penetration", "Biotrophic", "Sporulation"], "range": ["#717171", "#5a72c3", "#d3282c", "#e3772f"]}, "legend": null}}},
    {"data": {"name": "stages"}, "transform": [{"filter": "datum.stage == 'Sporulation'"}], "mark": {"type": "point", "shape": "M 0 -1 L 1.28 0 L 0 1 Z", "size": 625, "filled": true, "opacity": 1, "strokeWidth": 0},
     "encoding": {"x": {"field": "end", "type": "quantitative"}, "y": {"datum": -0.44, "type": "quantitative"}, "fill": {"field": "stage", "type": "nominal"}}},
    {"data": {"name": "cols"}, "transform": [{"filter": "datum.time != null"}], "mark": {"type": "text", "fontSize": 9.5, "color": "#111", "baseline": "middle"},
     "encoding": {"x": {"field": "pos", "type": "quantitative"}, "y": {"datum": -0.44, "type": "quantitative"}, "text": {"field": "time"}}},
    {"data": {"name": "cols"}, "mark": {"type": "rule", "color": "#333", "strokeWidth": 0.8},
     "encoding": {"x": {"field": "pos", "type": "quantitative"}, "y": {"datum": 0.2, "type": "quantitative"}, "y2": {"datum": 0.5}}},
    {"data": {"name": "bmods"}, "mark": {"type": "text", "fontSize": 9.5, "baseline": "middle"},
     "encoding": {"x": {"field": "pos", "type": "quantitative"}, "y": {"field": "rank", "type": "quantitative"}, "text": {"field": "module"}, "color": {"field": "module", "type": "nominal", "scale": {"domain": ["M1","M2","M3","M4","M5","M6","M7","M8","M9","M10"]}, "legend": null}}}
  ]
},
{
  "title": {"text": "C", "dx": -36, "dy": 7},
  "spacing": 1,
  "hconcat": [
    {"width": 287, "height": 422, "view": {"stroke": null}, "data": {"name": "go"},
     "transform": [{"aggregate": [{"op": "count", "as": "n"}], "groupby": ["term"]}],
     "mark": {"type": "text", "align": "right", "baseline": "middle", "fontSize": 10.3, "color": "#1a1a1a"},
     "encoding": {
       "x": {"datum": 1, "type": "quantitative", "scale": {"domain": [0, 1]}, "axis": null},
       "y": {"field": "term", "type": "nominal", "scale": {"type": "point", "padding": 0.6, "domain": ["Nucleosome","Purine-containing compound catabolic process","Cellular chemical homeostasis","Chemical homeostasis","Cellular homeostasis","Carbohydrate derivative catabolic process","Vacuolar transport","Cell wall organization or biogenesis","Fungal-type cell wall organization or biogenesis","Side of membrane","Cytoplasmic side of plasma membrane","Vesicle organization","Regulation of conjugation with cellular fusion","Conjugation with cellular fusion","Cellular response to pheromone","Response to pheromone","DNA replication","DNA-templated DNA replication","Nuclear DNA replication","Intracellular signal transduction","Negative regulation of cellular component organization","Nuclear replication fork","Replication fork","U2 snRNP","Precatalytic spliceosome","U1 snRNP","U4/U6/U5 tri-snRNP complex","Zinc ion binding","rRNA processing","Cytoplasmic translation","Preribosome","90S preribosome","Ribosome","Regulation of anatomical structure morphogenesis","Cell morphogenesis","Vacuole organization","Phosphatidylinositol metabolic process","Glycerophospholipid metabolic process","Glycerolipid metabolic process","Glycerolipid biosynthetic process","Transferase activity, transferring phosphorus-containing groups"]}, "axis": null},
       "text": {"field": "term"}
     }},
    {"width": 177, "height": 422, "data": {"name": "go"},
     "mark": {"type": "point", "filled": true, "opacity": 1, "shape": "M -1 0 C -1 -0.431 -0.552 -0.78 0 -0.78 C 0.552 -0.78 1 -0.431 1 0 C 1 0.431 0.552 0.78 0 0.78 C -0.552 0.78 -1 0.431 -1 0 Z"},
     "encoding": {
       "x": {"field": "module", "type": "nominal", "scale": {"type": "point", "domain": ["M1","M2","M3","M4","M5","M6","M8","M9","M10"], "padding": 0.6}, "axis": {"title": null, "labelAngle": 0, "grid": true, "labelColor": "#1a1a1a", "labelFontSize": 10.3, "domain": true, "domainColor": "#444"}},
       "y": {"field": "term", "type": "nominal", "scale": {"type": "point", "padding": 0.6, "domain": ["Nucleosome","Purine-containing compound catabolic process","Cellular chemical homeostasis","Chemical homeostasis","Cellular homeostasis","Carbohydrate derivative catabolic process","Vacuolar transport","Cell wall organization or biogenesis","Fungal-type cell wall organization or biogenesis","Side of membrane","Cytoplasmic side of plasma membrane","Vesicle organization","Regulation of conjugation with cellular fusion","Conjugation with cellular fusion","Cellular response to pheromone","Response to pheromone","DNA replication","DNA-templated DNA replication","Nuclear DNA replication","Intracellular signal transduction","Negative regulation of cellular component organization","Nuclear replication fork","Replication fork","U2 snRNP","Precatalytic spliceosome","U1 snRNP","U4/U6/U5 tri-snRNP complex","Zinc ion binding","rRNA processing","Cytoplasmic translation","Preribosome","90S preribosome","Ribosome","Regulation of anatomical structure morphogenesis","Cell morphogenesis","Vacuole organization","Phosphatidylinositol metabolic process","Glycerophospholipid metabolic process","Glycerolipid metabolic process","Glycerolipid biosynthetic process","Transferase activity, transferring phosphorus-containing groups"]}, "axis": {"title": null, "grid": true, "labels": false, "ticks": true, "domain": true, "domainColor": "#444"}},
       "size": {"field": "GeneRatio", "type": "quantitative", "scale": {"domain": [0, 0.17], "range": [0, 222]}, "legend": {"title": "GeneRatio", "orient": "none", "legendX": 483, "legendY": 81, "values": [0.05, 0.1, 0.15], "format": ".2f", "symbolType": "circle", "symbolFillColor": "black", "symbolStrokeColor": "black", "symbolStrokeWidth": 0}},
       "color": {"field": "padj", "type": "quantitative", "scale": {"type": "linear", "domain": [0.0004, 0.048], "range": ["#b5172b", "#1e9cb1"], "interpolate": "lab"}, "legend": {"title": "p.adjust", "orient": "none", "legendX": 483, "legendY": 176, "direction": "vertical", "gradientLength": 90, "gradientThickness": 16, "values": [0.01, 0.02, 0.03, 0.04], "format": ".2f"}}
     }}
  ]
}
]
}
